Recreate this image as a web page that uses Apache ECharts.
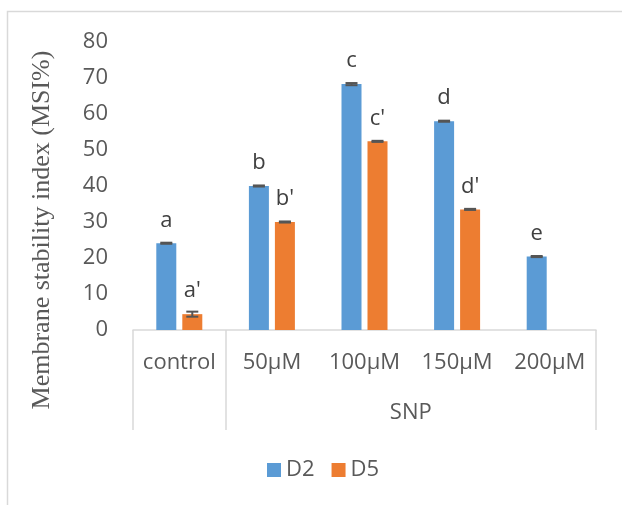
<!DOCTYPE html>
<html><head><meta charset="utf-8">
<script src="https://cdn.jsdelivr.net/npm/echarts@6/dist/echarts.min.js"></script>
<style>html,body{margin:0;padding:0;background:#fff}#c{width:622px;height:505px}</style>
</head><body><div id="c"></div>
<script>
const categories = ['control', '50μM', '100μM', '150μM', '200μM'];
const groupLabel = 'SNP';
const seriesNames = ['D2', 'D5'];
const d2Values = [24.1, 40.0, 68.3, 58.0, 20.4];
const d5Values = [4.4, 30.0, 52.4, 33.5, null];
const d2Errors = [0.15, 0.15, 0.3, 0.15, 0.15];
const d5Errors = [0.7, 0.15, 0.15, 0.15, null];
const d2Letters = ['a', 'b', 'c', 'd', 'e'];
const d5Letters = ["a'", "b'", "c'", "d'", ''];
const yTicks = [0, 10, 20, 30, 40, 50, 60, 70, 80];

const FONT = 'Open Sans';
const GREY = '#595959';
const BAR_W = 20, BAR_GAP = 6;

function errorSeries(vals, errs, dir) {
  const data = [];
  vals.forEach((v, i) => { if (v != null) data.push([i, v, errs[i]]); });
  return {
    type: 'custom', z: 5,
    data,
    renderItem(params, api) {
      const xi = api.value(0), v = api.value(1), e = api.value(2);
      const off = dir * (BAR_W + BAR_GAP) / 2;
      const top = api.coord([xi, v + e]);
      const bot = api.coord([xi, v - e]);
      const x = top[0] + off;
      const cap = 6;
      const style = { stroke: '#555', lineWidth: 2 };
      return { type: 'group', children: [
        { type: 'line', shape: { x1: x, y1: top[1], x2: x, y2: bot[1] }, style },
        { type: 'line', shape: { x1: x - cap, y1: top[1], x2: x + cap, y2: top[1] }, style },
        { type: 'line', shape: { x1: x - cap, y1: bot[1], x2: x + cap, y2: bot[1] }, style }
      ]};
    }
  };
}

const chart = echarts.init(document.getElementById('c'));
chart.setOption({
  animation: false,
  textStyle: { fontFamily: FONT },
  graphic: [{ type: 'rect', shape: { x: 7.5, y: 11.5, width: 700, height: 600 }, style: { fill: 'none', stroke: '#d9d9d9', lineWidth: 1.5 }, silent: true }],
  grid: { left: 133, right: 26, top: 42, bottom: 175, containLabel: false },
  legend: {
    data: seriesNames, left: 262, top: 454, itemWidth: 14, itemHeight: 14, itemGap: 17,
    icon: 'rect', textStyle: { fontFamily: FONT, fontSize: 22, color: GREY }
  },
  xAxis: [{
    type: 'category', data: categories, position: 'bottom',
    axisLine: { lineStyle: { color: '#d9d9d9', width: 1.5 } },
    axisTick: { show: false },
    axisLabel: { interval: 0, fontFamily: FONT, fontSize: 22, color: GREY, margin: 22 }
  }, {
    type: 'value', min: 0, max: 5, position: 'bottom',
    axisLine: { show: false },
    splitLine: { show: false },
    axisTick: { show: true, customValues: [0, 1, 5], length: 100, lineStyle: { color: '#d9d9d9', width: 1.5 } },
    axisLabel: { customValues: [3], formatter: () => groupLabel, fontFamily: FONT, fontSize: 22, color: GREY, margin: 72 }
  }],
  yAxis: {
    type: 'value', min: yTicks[0], max: yTicks[yTicks.length - 1], interval: 10,
    axisLine: { show: false }, axisTick: { show: false }, splitLine: { show: false },
    axisLabel: { fontFamily: FONT, fontSize: 22, color: GREY, margin: 25 },
    name: 'Membrane stability index (MSI%)', nameLocation: 'middle', nameGap: 78,
    nameTextStyle: { fontFamily: 'Liberation Serif', fontSize: 26, color: GREY, padding: [0, 88, 0, 0] }
  },
  series: [{
    name: seriesNames[0], type: 'bar', data: d2Values, barWidth: BAR_W, barGap: (BAR_GAP / BAR_W * 100) + '%',
    itemStyle: { color: '#5B9BD5' },
    label: { show: true, position: 'top', distance: 12, fontFamily: FONT, fontSize: 22, color: '#404040',
      formatter: p => d2Letters[p.dataIndex] }
  }, {
    name: seriesNames[1], type: 'bar', data: d5Values, barWidth: BAR_W,
    itemStyle: { color: '#ED7D31' },
    label: { show: true, position: 'top', distance: 12, fontFamily: FONT, fontSize: 22, color: '#404040',
      formatter: p => d5Letters[p.dataIndex] }
  }, errorSeries(d2Values, d2Errors, -1), errorSeries(d5Values, d5Errors, 1)]
});
</script></body></html>
